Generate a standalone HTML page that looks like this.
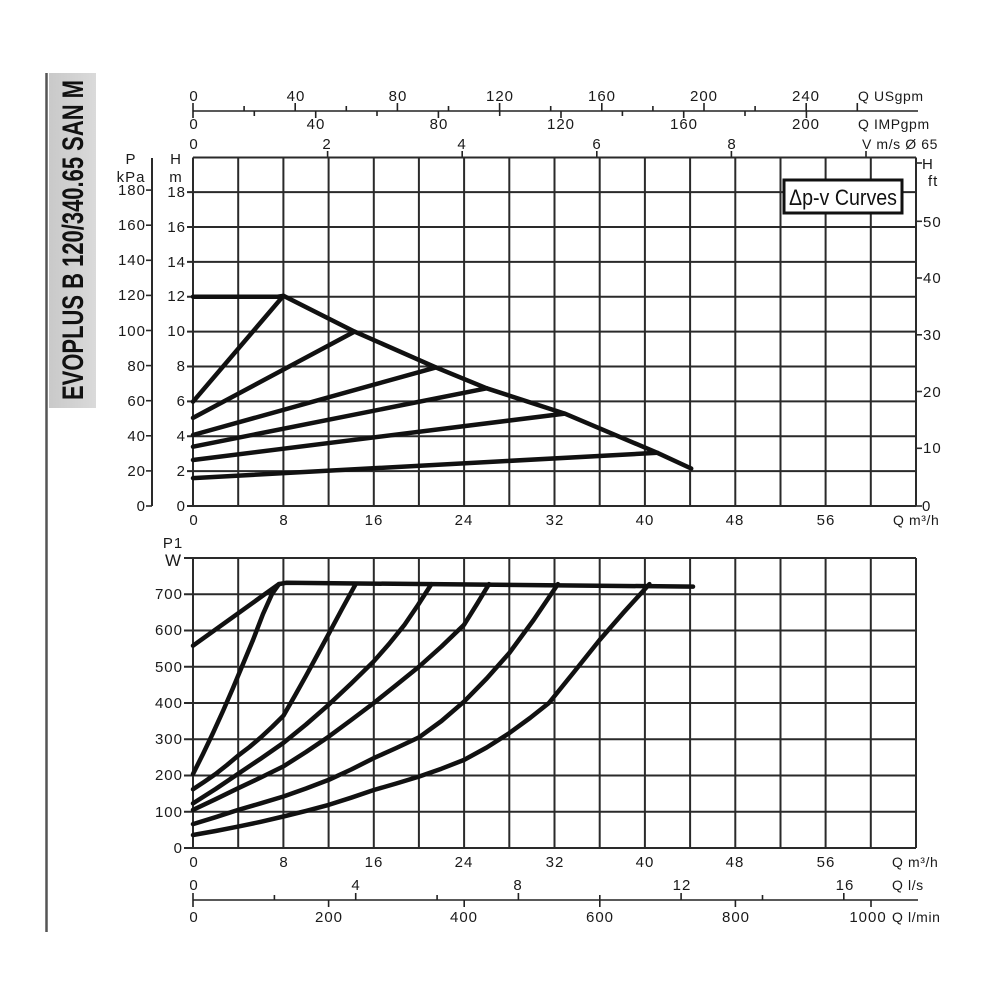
<!DOCTYPE html>
<html>
<head>
<meta charset="utf-8">
<style>
html,body{margin:0;padding:0;background:#fff;}
svg{display:block;}
text{font-family:"Liberation Sans",Arial,sans-serif;fill:#1a1a1a;}
.t{font-size:15px;letter-spacing:1px;}
.s{font-size:14px;letter-spacing:0.6px;}
</style>
</head>
<body>
<svg width="1000" height="1000" viewBox="0 0 1000 1000" xmlns="http://www.w3.org/2000/svg">
<rect width="1000" height="1000" fill="#fff"/>

<line x1="46.5" y1="73" x2="46.5" y2="932" stroke="#555" stroke-width="2.5"/>
<defs>
<linearGradient id="gb" x1="0" x2="1" y1="0" y2="0">
<stop offset="0" stop-color="#c9c9c9"/><stop offset="1" stop-color="#dadada"/>
</linearGradient>
</defs>
<rect x="49" y="73" width="47" height="335" fill="url(#gb)"/>
<text transform="translate(83,240) rotate(-90)" text-anchor="middle" font-size="30" font-weight="bold" textLength="320" lengthAdjust="spacingAndGlyphs" style="fill:#111">EVOPLUS B 120/340.65 SAN M</text>

<!-- TOP AXES -->
<g stroke="#222" stroke-width="1.6">
<line x1="193" y1="111" x2="918" y2="111"/>
<line x1="193" y1="103" x2="193" y2="118"/>
<line x1="295.2" y1="103" x2="295.2" y2="111"/>
<line x1="397.4" y1="103" x2="397.4" y2="111"/>
<line x1="499.6" y1="103" x2="499.6" y2="111"/>
<line x1="601.8" y1="103" x2="601.8" y2="111"/>
<line x1="704" y1="103" x2="704" y2="111"/>
<line x1="806.2" y1="103" x2="806.2" y2="111"/>
<line x1="857.3" y1="103" x2="857.3" y2="111"/>
<line x1="244.1" y1="106" x2="244.1" y2="111"/>
<line x1="346.3" y1="106" x2="346.3" y2="111"/>
<line x1="448.5" y1="106" x2="448.5" y2="111"/>
<line x1="550.7" y1="106" x2="550.7" y2="111"/>
<line x1="652.9" y1="106" x2="652.9" y2="111"/>
<line x1="755.1" y1="106" x2="755.1" y2="111"/>
<line x1="315.7" y1="111" x2="315.7" y2="118"/>
<line x1="438.4" y1="111" x2="438.4" y2="118"/>
<line x1="561" y1="111" x2="561" y2="118"/>
<line x1="683.7" y1="111" x2="683.7" y2="118"/>
<line x1="806.4" y1="111" x2="806.4" y2="118"/>
<line x1="254.3" y1="111" x2="254.3" y2="116"/>
<line x1="377" y1="111" x2="377" y2="116"/>
<line x1="499.7" y1="111" x2="499.7" y2="116"/>
<line x1="622.4" y1="111" x2="622.4" y2="116"/>
<line x1="745" y1="111" x2="745" y2="116"/>
<line x1="327.6" y1="151" x2="327.6" y2="158"/>
<line x1="462.2" y1="151" x2="462.2" y2="158"/>
<line x1="596.8" y1="151" x2="596.8" y2="158"/>
<line x1="731.4" y1="151" x2="731.4" y2="158"/>
<line x1="866" y1="151" x2="866" y2="158"/>
</g>
<g class="t" text-anchor="middle">
<text x="194" y="101">0</text>
<text x="296" y="101">40</text>
<text x="398" y="101">80</text>
<text x="500" y="101">120</text>
<text x="602" y="101">160</text>
<text x="704" y="101">200</text>
<text x="806" y="101">240</text>
<text x="194" y="129">0</text>
<text x="316" y="129">40</text>
<text x="439" y="129">80</text>
<text x="561" y="129">120</text>
<text x="684" y="129">160</text>
<text x="806" y="129">200</text>
<text x="194" y="149">0</text>
<text x="327" y="149">2</text>
<text x="462" y="149">4</text>
<text x="597" y="149">6</text>
<text x="732" y="149">8</text>
</g>
<g class="s">
<text x="858" y="101">Q USgpm</text>
<text x="858" y="129">Q IMPgpm</text>
<text x="862" y="149">V m/s Ø 65</text>
</g>

<!-- UPPER CHART -->
<g stroke="#2a2a2a" stroke-width="2">
<line x1="193" y1="157.5" x2="193" y2="506"/>
<line x1="238.2" y1="157.5" x2="238.2" y2="506"/>
<line x1="283.4" y1="157.5" x2="283.4" y2="506"/>
<line x1="328.6" y1="157.5" x2="328.6" y2="506"/>
<line x1="373.8" y1="157.5" x2="373.8" y2="506"/>
<line x1="418.9" y1="157.5" x2="418.9" y2="506"/>
<line x1="464.1" y1="157.5" x2="464.1" y2="506"/>
<line x1="509.3" y1="157.5" x2="509.3" y2="506"/>
<line x1="554.5" y1="157.5" x2="554.5" y2="506"/>
<line x1="599.7" y1="157.5" x2="599.7" y2="506"/>
<line x1="644.9" y1="157.5" x2="644.9" y2="506"/>
<line x1="690.1" y1="157.5" x2="690.1" y2="506"/>
<line x1="735.3" y1="157.5" x2="735.3" y2="506"/>
<line x1="780.5" y1="157.5" x2="780.5" y2="506"/>
<line x1="825.6" y1="157.5" x2="825.6" y2="506"/>
<line x1="870.8" y1="157.5" x2="870.8" y2="506"/>
<line x1="916" y1="157.5" x2="916" y2="506"/>
<line x1="187" y1="506" x2="916" y2="506"/>
<line x1="187" y1="471.1" x2="916" y2="471.1"/>
<line x1="187" y1="436.2" x2="916" y2="436.2"/>
<line x1="187" y1="401.4" x2="916" y2="401.4"/>
<line x1="187" y1="366.5" x2="916" y2="366.5"/>
<line x1="187" y1="331.6" x2="916" y2="331.6"/>
<line x1="187" y1="296.7" x2="916" y2="296.7"/>
<line x1="187" y1="261.9" x2="916" y2="261.9"/>
<line x1="187" y1="227" x2="916" y2="227"/>
<line x1="187" y1="192.1" x2="916" y2="192.1"/>
<line x1="193" y1="157.5" x2="916" y2="157.5"/>
<line x1="152" y1="158" x2="152" y2="506"/>
</g>
<g stroke="#2a2a2a" stroke-width="1.6">
<line x1="146" y1="506" x2="152" y2="506"/>
<line x1="146" y1="470.9" x2="152" y2="470.9"/>
<line x1="146" y1="435.8" x2="152" y2="435.8"/>
<line x1="146" y1="400.7" x2="152" y2="400.7"/>
<line x1="146" y1="365.6" x2="152" y2="365.6"/>
<line x1="146" y1="330.5" x2="152" y2="330.5"/>
<line x1="146" y1="295.4" x2="152" y2="295.4"/>
<line x1="146" y1="260.3" x2="152" y2="260.3"/>
<line x1="146" y1="225.2" x2="152" y2="225.2"/>
<line x1="146" y1="190.1" x2="152" y2="190.1"/>
<line x1="916" y1="163" x2="922" y2="163"/>
<line x1="916" y1="221.3" x2="922" y2="221.3"/>
<line x1="916" y1="278" x2="922" y2="278"/>
<line x1="916" y1="334.8" x2="922" y2="334.8"/>
<line x1="916" y1="391.5" x2="922" y2="391.5"/>
<line x1="916" y1="448.3" x2="922" y2="448.3"/>
<line x1="916" y1="506" x2="922" y2="506"/>
</g>

<g class="t" text-anchor="end">
<text x="146" y="511">0</text>
<text x="146" y="476">20</text>
<text x="146" y="441">40</text>
<text x="146" y="406">60</text>
<text x="146" y="371">80</text>
<text x="146" y="336">100</text>
<text x="146" y="300">120</text>
<text x="146" y="265">140</text>
<text x="146" y="230">160</text>
<text x="146" y="195">180</text>
<text x="186" y="511">0</text>
<text x="186" y="476">2</text>
<text x="186" y="441">4</text>
<text x="186" y="406">6</text>
<text x="186" y="371">8</text>
<text x="186" y="336">10</text>
<text x="186" y="301">12</text>
<text x="186" y="267">14</text>
<text x="186" y="232">16</text>
<text x="186" y="197">18</text>
</g>
<g class="t" text-anchor="middle">
<text x="131" y="164">P</text>
<text x="131" y="182">kPa</text>
<text x="176" y="164">H</text>
<text x="176" y="182">m</text>
</g>
<g class="t">
<text x="922" y="169">H</text>
<text x="928" y="186">ft</text>
<text x="923" y="227">50</text>
<text x="923" y="283">40</text>
<text x="923" y="340">30</text>
<text x="923" y="397">20</text>
<text x="923" y="453">10</text>
<text x="922" y="511">0</text>
</g>
<g class="t" text-anchor="middle">
<text x="194" y="525">0</text>
<text x="284" y="525">8</text>
<text x="374" y="525">16</text>
<text x="464" y="525">24</text>
<text x="555" y="525">32</text>
<text x="645" y="525">40</text>
<text x="735" y="525">48</text>
<text x="826" y="525">56</text>
</g>
<text class="s" x="893" y="525">Q m³/h</text>

<rect x="784" y="180" width="118" height="33" fill="#fff" stroke="#111" stroke-width="3"/>
<text x="843" y="205" text-anchor="middle" font-size="22" textLength="108" lengthAdjust="spacingAndGlyphs" style="fill:#111">Δp-v Curves</text>

<g fill="none" stroke="#111" stroke-width="4.5" stroke-linejoin="round" stroke-linecap="round">
<polyline points="193,296.7 277.7,296.7 283.4,295.8 354.5,331.6 435.9,367.4 486.7,388.3 564.7,413.6 657.3,452.8 691.2,468.5"/>
<line x1="193" y1="401.7" x2="283.4" y2="295.8"/>
<line x1="193" y1="417.9" x2="354.5" y2="331.6"/>
<line x1="193" y1="435" x2="435.9" y2="367.4"/>
<line x1="193" y1="446.7" x2="486.7" y2="388.3"/>
<line x1="193" y1="460" x2="564.7" y2="413.6"/>
<line x1="193" y1="478.1" x2="657.3" y2="452.8"/>
</g>

<!-- LOWER CHART -->
<g stroke="#2a2a2a" stroke-width="2">
<line x1="193" y1="558" x2="193" y2="848"/>
<line x1="238.2" y1="558" x2="238.2" y2="848"/>
<line x1="283.4" y1="558" x2="283.4" y2="848"/>
<line x1="328.6" y1="558" x2="328.6" y2="848"/>
<line x1="373.8" y1="558" x2="373.8" y2="848"/>
<line x1="418.9" y1="558" x2="418.9" y2="848"/>
<line x1="464.1" y1="558" x2="464.1" y2="848"/>
<line x1="509.3" y1="558" x2="509.3" y2="848"/>
<line x1="554.5" y1="558" x2="554.5" y2="848"/>
<line x1="599.7" y1="558" x2="599.7" y2="848"/>
<line x1="644.9" y1="558" x2="644.9" y2="848"/>
<line x1="690.1" y1="558" x2="690.1" y2="848"/>
<line x1="735.3" y1="558" x2="735.3" y2="848"/>
<line x1="780.5" y1="558" x2="780.5" y2="848"/>
<line x1="825.6" y1="558" x2="825.6" y2="848"/>
<line x1="870.8" y1="558" x2="870.8" y2="848"/>
<line x1="916" y1="558" x2="916" y2="848"/>
<line x1="184" y1="848" x2="916" y2="848"/>
<line x1="184" y1="811.75" x2="916" y2="811.75"/>
<line x1="184" y1="775.5" x2="916" y2="775.5"/>
<line x1="184" y1="739.25" x2="916" y2="739.25"/>
<line x1="184" y1="703" x2="916" y2="703"/>
<line x1="184" y1="666.75" x2="916" y2="666.75"/>
<line x1="184" y1="630.5" x2="916" y2="630.5"/>
<line x1="184" y1="594.25" x2="916" y2="594.25"/>
<line x1="184" y1="558" x2="916" y2="558"/>
</g>
<g class="t" text-anchor="end">
<text x="183" y="853">0</text>
<text x="183" y="817">100</text>
<text x="183" y="780">200</text>
<text x="183" y="744">300</text>
<text x="183" y="708">400</text>
<text x="183" y="672">500</text>
<text x="183" y="635">600</text>
<text x="183" y="599">700</text>
</g>
<text class="t" x="173" y="548" text-anchor="middle">P1</text>
<text x="173" y="566" text-anchor="middle" font-size="17">W</text>
<g class="t" text-anchor="middle">
<text x="194" y="867">0</text>
<text x="284" y="867">8</text>
<text x="374" y="867">16</text>
<text x="464" y="867">24</text>
<text x="555" y="867">32</text>
<text x="645" y="867">40</text>
<text x="735" y="867">48</text>
<text x="826" y="867">56</text>
</g>
<text class="s" x="892" y="867">Q m³/h</text>

<g fill="none" stroke="#111" stroke-width="4.5" stroke-linejoin="round" stroke-linecap="round">
<polyline points="193,645.7 278.9,584.1"/>
<polyline points="278.9,584.1 286,582.8 693,586.6"/>
<polyline points="193,774 203,754 213,733 223,711 233,688 243,664 253,640 263,614 272,594 279,584.1"/>
<polyline points="193,789.3 204,782 215.6,774 227,765 238.2,755.6 249.5,747 260.8,737.4 272,727 283.4,715.7 294.7,696 306,675.8 317.3,655 328.6,634.1 342,609 355.7,584.1"/>
<polyline points="193,803.4 215.6,789 238.2,773.7 260.8,758.6 283.4,742.9 306,724.5 328.6,704.8 351.2,683.5 373.8,661.3 389,644 404.3,625.1 418,605 431.4,584.1"/>
<polyline points="193,809.9 215.6,799.2 238.2,788.2 260.8,777.5 283.4,766.4 306,752 328.6,736.7 351.2,720 373.8,703 396.3,685 418.9,666.75 441.5,646.5 464.1,624.7 477,604 489,584.1"/>
<polyline points="193,824.1 215.6,817.2 238.2,809.9 260.8,803.3 283.4,796.5 306,788.5 328.6,779.9 351.2,769.5 373.8,758.1 396.3,748 418.9,737.4 441.5,721 464.1,701.6 486.7,678.5 509.3,653 533.6,620 557.9,584.1"/>
<polyline points="193,835 215.6,831 238.2,826.6 260.8,821.8 283.4,816.5 306,810.9 328.6,804.9 351.2,797.7 373.8,790 396.3,783.5 418.9,776.6 441.5,768.7 464.1,759.9 486.7,747.5 509.3,733.1 530,718 548.9,703 574,672 599.7,639.9 624,612 649.4,584.1"/>
</g>

<!-- BOTTOM AXES -->
<g stroke="#222" stroke-width="1.6">
<line x1="193" y1="900" x2="918" y2="900"/>
<line x1="193" y1="893" x2="193" y2="907"/>
<line x1="274.4" y1="895" x2="274.4" y2="900"/>
<line x1="355.7" y1="893" x2="355.7" y2="900"/>
<line x1="437.1" y1="895" x2="437.1" y2="900"/>
<line x1="518.4" y1="893" x2="518.4" y2="900"/>
<line x1="599.8" y1="895" x2="599.8" y2="907"/>
<line x1="681.1" y1="893" x2="681.1" y2="900"/>
<line x1="762.5" y1="895" x2="762.5" y2="900"/>
<line x1="843.8" y1="893" x2="843.8" y2="900"/>
<line x1="328.6" y1="900" x2="328.6" y2="907"/>
<line x1="464.2" y1="900" x2="464.2" y2="907"/>
<line x1="735.4" y1="900" x2="735.4" y2="907"/>
<line x1="871" y1="900" x2="871" y2="907"/>
</g>
<g class="t" text-anchor="middle">
<text x="194" y="890">0</text>
<text x="356" y="890">4</text>
<text x="518" y="890">8</text>
<text x="682" y="890">12</text>
<text x="845" y="890">16</text>
<text x="194" y="922">0</text>
<text x="329" y="922">200</text>
<text x="464" y="922">400</text>
<text x="600" y="922">600</text>
<text x="736" y="922">800</text>
<text x="868" y="922">1000</text>
</g>
<g class="s">
<text x="892" y="890">Q l/s</text>
<text x="892" y="922">Q l/min</text>
</g>
</svg>
</body>
</html>
